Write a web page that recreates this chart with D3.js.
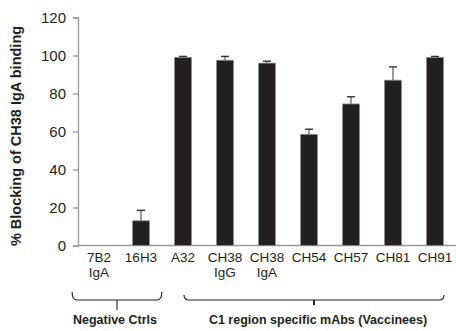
<!DOCTYPE html>
<html>
<head>
<meta charset="utf-8">
<script src="https://d3js.org/d3.v7.min.js"></script>
<style>
  body { margin: 0; background: #fff; }
  text { font-family: "Liberation Sans", Arial, sans-serif; fill: #231f20; }
</style>
</head>
<body>
<div id="chart-area"></div>
<script>
let width = 456,
    height = 331;

// data
let names = ["7B2", "16H3", "A32", "CH38", "CH38", "CH54", "CH57", "CH81", "CH91"];
let subNames = ["IgA", "", "", "IgG", "IgA", "", "", "", ""];
let values = [0, 13, 99, 97.5, 96, 58.5, 74.5, 87, 99];
let errors = [0, 5.5, 0.5, 2, 1, 2.7, 3.8, 7, 0.5];
let yTicks = [0, 20, 40, 60, 80, 100, 120];
let groups = [
  { label: "Negative Ctrls", from: 0, to: 1 },
  { label: "C1 region specific mAbs (Vaccinees)", from: 2, to: 8 }
];

let svg = d3.select("#chart-area").append("svg")
    .attr("width", width)
    .attr("height", height);

let x = d3.scaleBand()
    .domain(d3.range(names.length))
    .range([78, 456])
    .paddingInner(0.6)
    .paddingOuter(0.3);

let y = d3.scaleLinear()
    .domain([0, 120])
    .range([245.5, 17.5]);

// y axis
let yAxis = svg.append("g")
    .attr("transform", "translate(78,0)")
    .call(d3.axisLeft(y).tickValues(yTicks).tickSize(5).tickPadding(7));
yAxis.select(".domain").attr("stroke", "#999").attr("stroke-width", 1.3);
yAxis.selectAll(".tick line").attr("stroke", "#999").attr("stroke-width", 1.3);
yAxis.selectAll(".tick text")
    .attr("font-size", 15)
    .attr("font-family", "'Liberation Sans', Arial, sans-serif")
    .attr("fill", "#231f20");

// baseline
svg.append("line")
    .attr("x1", 78).attr("x2", 456)
    .attr("y1", y(0)).attr("y2", y(0))
    .attr("stroke", "#999")
    .attr("stroke-width", 1.5);

// error bars
let err = svg.selectAll(".err")
    .data(values.map((v, i) => ({ v: v, e: errors[i], i: i })).filter(d => d.v > 0))
    .enter().append("g")
    .attr("class", "err");

err.append("line")
    .attr("x1", d => x(d.i) + x.bandwidth() / 2)
    .attr("x2", d => x(d.i) + x.bandwidth() / 2)
    .attr("y1", d => y(d.v))
    .attr("y2", d => y(d.v + d.e))
    .attr("stroke", "#555")
    .attr("stroke-width", 1.2);

err.append("line")
    .attr("x1", d => x(d.i) + x.bandwidth() / 2 - 4)
    .attr("x2", d => x(d.i) + x.bandwidth() / 2 + 4)
    .attr("y1", d => y(d.v + d.e))
    .attr("y2", d => y(d.v + d.e))
    .attr("stroke", "#333")
    .attr("stroke-width", 1.4);

// bars
svg.selectAll(".bar")
    .data(values)
    .enter().append("rect")
    .attr("class", "bar")
    .attr("x", (d, i) => x(i))
    .attr("y", d => y(d))
    .attr("width", x.bandwidth())
    .attr("height", d => y(0) - y(d))
    .attr("fill", d => d > 0 ? "#231f20" : "none")
    .attr("stroke", d => d > 0 ? "#8a8a8a" : "none")
    .attr("stroke-width", 0.8);

// category labels
let labels = svg.selectAll(".cat")
    .data(names)
    .enter().append("text")
    .attr("class", "cat")
    .attr("text-anchor", "middle")
    .attr("font-size", 13.5)
    .attr("x", (d, i) => x(i) + x.bandwidth() / 2)
    .attr("y", 262);
labels.append("tspan").text(d => d);
labels.append("tspan")
    .attr("x", (d, i) => x(i) + x.bandwidth() / 2)
    .attr("dy", 15)
    .text((d, i) => subNames[i]);

// group braces
function braceEnds(d) {
  if (d.from === 0) return [x(d.from) - 18.5, x(d.to) + x.bandwidth() + 12.5];
  return [x(d.from) + x.bandwidth() / 2 + 1, x(d.to) + x.bandwidth() / 2 + 9];
}

let brace = svg.selectAll(".brace")
    .data(groups)
    .enter().append("g")
    .attr("class", "brace");

brace.append("path")
    .attr("d", function(d) {
      let [x0, x1] = braceEnds(d);
      let top = d.from === 0 ? 292 : 295;
      return "M" + x0 + "," + top + " Q" + x0 + ",300 " + (x0 + 5) + ",300 L" + (x1 - 5) + ",300 Q" + x1 + ",300 " + x1 + "," + top;
    })
    .attr("fill", "none")
    .attr("stroke", "#231f20")
    .attr("stroke-width", 1.1);

brace.append("line")
    .attr("x1", d => d3.mean(braceEnds(d)))
    .attr("x2", d => d3.mean(braceEnds(d)))
    .attr("y1", 300)
    .attr("y2", d => d.from > 0 ? 305 : 310)
    .attr("stroke", "#231f20")
    .attr("stroke-width", d => d.from > 0 ? 2 : 1.1);

brace.append("text")
    .attr("text-anchor", "middle")
    .attr("font-size", 12.5)
    .attr("font-weight", "bold")
    .attr("x", d => d.from > 0 ? 318 : 115)
    .attr("y", 324)
    .text(d => d.label);

// y axis title
svg.append("text")
    .attr("transform", "translate(21,136) rotate(-90)")
    .attr("text-anchor", "middle")
    .attr("font-size", 14.5)
    .attr("font-weight", "bold")
    .text("% Blocking of CH38 IgA binding");
</script>
</body>
</html>
